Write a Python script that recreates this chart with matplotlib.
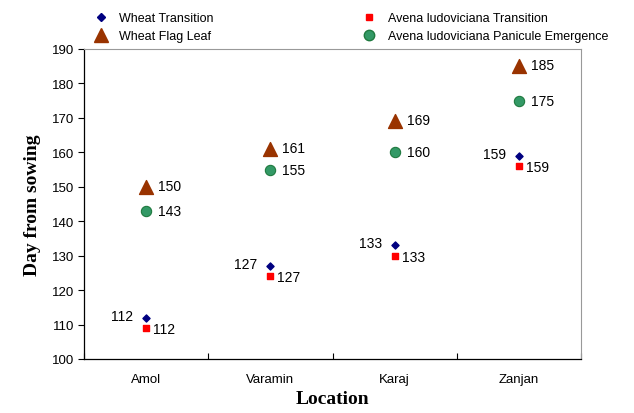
import matplotlib.pyplot as plt
from matplotlib.lines import Line2D
import numpy as np

plt.rcParams['font.family'] = ['Liberation Sans', 'DejaVu Sans']

locations = ['Amol', 'Varamin', 'Karaj', 'Zanjan']
wheat_transition = [112, 127, 133, 159]
avena_transition = [112, 127, 133, 159]
wheat_flag_leaf = [150, 161, 169, 185]
avena_panicule = [143, 155, 160, 175]

# avena transition markers are drawn 3 days lower so they don't sit on the wheat ones
avena_shift = 3

fig = plt.figure(figsize=(6.34, 4.14), dpi=100)
ax = fig.add_axes([84/634, 1-360/414, 497/634, 310/414])

x = np.arange(len(locations))
ax.scatter(x, wheat_transition, marker='D', s=13, color='#000080', zorder=3)
ax.scatter(x, np.array(avena_transition) - avena_shift, marker='s', s=20, color='#ff0000', zorder=3)
ax.scatter(x, wheat_flag_leaf, marker='^', s=100, color='#993300', zorder=3)
ax.scatter(x, avena_panicule, marker='o', s=55, color='#339966', edgecolor='#1f7a3f', linewidth=0.8, zorder=3)

for i in range(len(locations)):
    ax.annotate(str(wheat_transition[i]), (x[i], wheat_transition[i]), xytext=(-13, 2),
                textcoords='offset pixels', ha='right', va='center', fontsize=10)
    ax.annotate(str(avena_transition[i]), (x[i], avena_transition[i] - avena_shift), xytext=(7, -1),
                textcoords='offset pixels', ha='left', va='center', fontsize=10)
    ax.annotate(str(wheat_flag_leaf[i]), (x[i], wheat_flag_leaf[i]), xytext=(12, 1),
                textcoords='offset pixels', ha='left', va='center', fontsize=10)
    ax.annotate(str(avena_panicule[i]), (x[i], avena_panicule[i]), xytext=(12, 0),
                textcoords='offset pixels', ha='left', va='center', fontsize=10)

ax.set_xlim(-0.5, 3.5)
ax.set_ylim(100, 190)
ax.set_yticks(np.arange(100, 191, 10))
ax.set_xticks(np.arange(-0.5, 3.6, 1))
ax.set_xticklabels([])
ax.set_xticks(x, minor=True)
ax.set_xticklabels(locations, minor=True)
ax.tick_params(axis='x', which='minor', length=0, pad=10, labelsize=9.5)
ax.tick_params(axis='x', which='major', direction='in', length=4, width=0.8)
ax.tick_params(axis='y', direction='out', length=4, width=0.8, labelsize=9.5, pad=3)
ax.spines['top'].set_color('#999999')
ax.spines['right'].set_color('#999999')
ax.spines['left'].set_linewidth(0.9)
ax.spines['bottom'].set_linewidth(0.9)

ax.set_xlabel('Location', family='Liberation Serif', fontsize=14, weight='bold', labelpad=4)
ax.set_ylabel('Day from sowing', family='Liberation Serif', fontsize=14, weight='bold', labelpad=8)

handles = [
    Line2D([], [], ls='none', marker='D', ms=4, color='#000080'),
    Line2D([], [], ls='none', marker='^', ms=10, color='#993300'),
    Line2D([], [], ls='none', marker='s', ms=5, color='#ff0000'),
    Line2D([], [], ls='none', marker='o', ms=7.5, color='#339966', mec='#1f7a3f'),
]
names = ['Wheat Transition', 'Wheat Flag Leaf', 'Avena ludoviciana Transition',
         'Avena ludoviciana Panicule Emergence']
fig.legend(handles, names, ncol=2, loc='upper left', bbox_to_anchor=(88/634, 1-8/414),
           frameon=False, fontsize=9, handlelength=1.2, handletextpad=0.9,
           columnspacing=11.8, labelspacing=0.5, borderaxespad=0)

plt.savefig('out.png', dpi=100)
